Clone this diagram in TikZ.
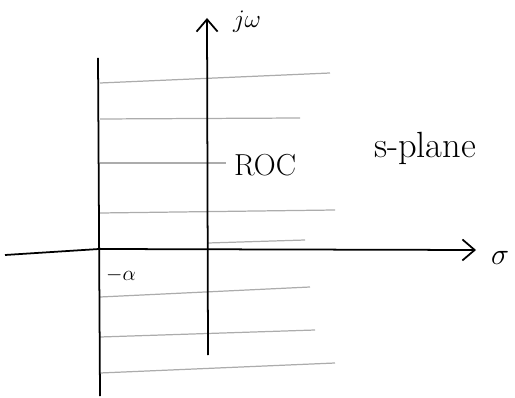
\documentclass[tikz,border=0pt]{standalone}
\usetikzlibrary{arrows.meta}
\begin{document}
\begin{tikzpicture}[x=0.2mm,y=-0.2mm,
    axis/.style={line width=1pt,-{Straight Barb[length=7pt,width=12pt,line width=1pt]}},
    edge/.style={line width=1pt},
    hatch/.style={gray!65,line width=0.7pt},
    lbl/.style={font=\Large,inner sep=1pt}
]
  \useasboundingbox (0,0) rectangle (515,398);

  % axis end points
  \coordinate (sigL) at (5,255);
  \coordinate (sigR) at (476,250);
  \coordinate (jwB) at (208,355);
  \coordinate (jwT) at (207,18);
  \coordinate (alT) at (98,58);
  \coordinate (alB) at (100,396);

  % shaded region (horizontal hatching)
  \foreach \ya/\yb/\xr in {83/73/330, 119/118/300, 163/163/226, 213/210/335,
                           297/287/310, 337/330/315, 373/363/335}
    \draw[hatch] (100,\ya) -- (\xr,\yb);
  \draw[hatch] (208,243) -- (305,240);

  % axes
  \draw[axis] (sigL) -- (99,249) -- (sigR);
  \draw[axis] (jwB) -- (jwT);
  \draw[edge] (alT) -- (alB);

  % labels
  \node[lbl] (jw) at (247,22) {$j\omega$};
  \node[lbl,font=\LARGE] (sig) at (500,258) {$\sigma$};
  \node[lbl,font=\LARGE] (roc) at (265,165) {ROC};
  \node[lbl,font=\huge] (splane) at (425,148) {s-plane};
  \node[lbl,font=\large] (alpha) at (121,275) {$-\alpha$};
\end{tikzpicture}
\end{document}
